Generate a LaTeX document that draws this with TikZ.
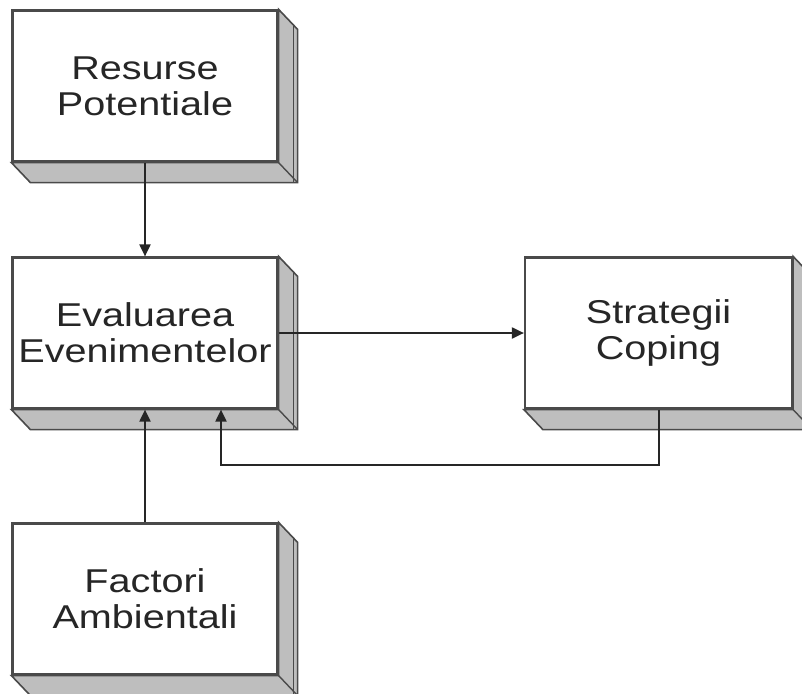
\documentclass[tikz,border=0pt]{standalone}
\usepackage{fontspec}
\usetikzlibrary{arrows.meta}
\newfontfamily\boxfont[FakeStretch=1.2]{Liberation Sans}
\definecolor{edgegray}{HTML}{4A4A4A}
\definecolor{sidegray}{HTML}{BEBEBE}

\begin{document}
\begin{tikzpicture}[x=1pt, y=-1pt,
  block/.style={draw=edgegray, line width=2.2pt, fill=white, inner sep=0pt,
    minimum width=265pt, minimum height=151pt, align=center, text=black!85,
    font=\boxfont\fontsize{33}{36}\selectfont},
  bevel/.style={fill=sidegray, draw=edgegray, line width=1.6pt, line join=miter},
  conn/.style={draw=black!85, line width=2pt, -{Triangle[length=12pt,width=11pt]}}]
  \useasboundingbox (0,0) rectangle (802,693);
  \node[block] (resurse) at (145,86) {Resurse\\Potentiale};
  \node[block] (evaluare) at (145,333) {Evaluarea\\Evenimentelor};
  \node[block, minimum width=267pt] (strategii) at (658.5,333) {Strategii\\Coping};
  \node[block] (factori) at (145,599) {Factori\\Ambientali};
  \foreach \n in {resurse,evaluare,strategii,factori} {
    \draw[bevel] (\n.north east) -- ++(19,20) -- ([shift={(19,20)}]\n.south east)
      -- ([shift={(19,20)}]\n.south west) -- (\n.south west) -- (\n.south east) -- cycle;
    \draw[edgegray, line width=1.4pt] (\n.south east) -- ++(19,20);
    \draw[edgegray, line width=1.2pt] ([shift={(15,16)}]\n.north east) -- ([shift={(15,20)}]\n.south east);
  }
  \draw[conn] (resurse.south) -- (evaluare.north);
  \draw[conn] (evaluare.east) -- (strategii.west);
  \draw[conn] (factori.north) -- (evaluare.south);
  \coordinate (ret) at (221,465);
  \draw[conn] (strategii.south) |- (ret) -- (ret |- evaluare.south);
\end{tikzpicture}
\end{document}
